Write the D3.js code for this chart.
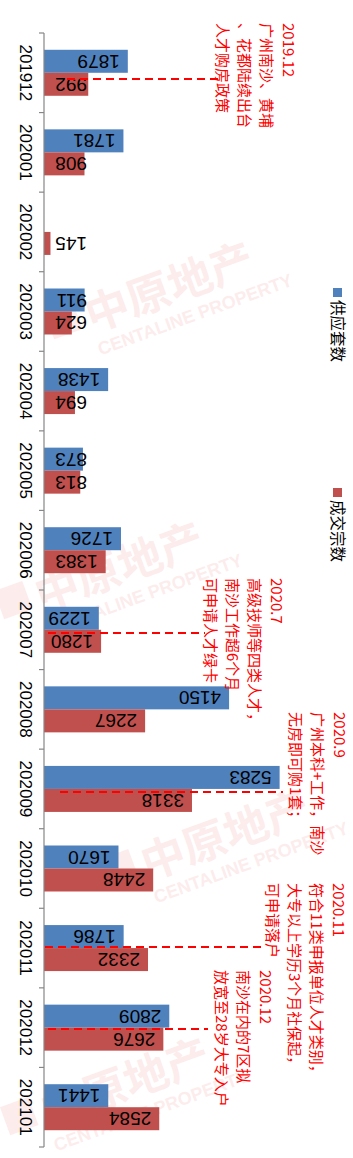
<!DOCTYPE html>
<html><head><meta charset="utf-8">
<script src="https://cdn.jsdelivr.net/npm/d3@7"></script>
<style>html,body{margin:0;padding:0;background:#fff;overflow:hidden}</style>
</head><body>
<svg id="c" width="353" height="1158"></svg>
<script>
// ---- data ----
const categories = ["201912","202001","202002","202003","202004","202005","202006","202007","202008","202009","202010","202011","202012","202101"];
const seriesNames = ["供应套数","成交宗数"];
const supplyValues = [1879,1781,null,911,1438,873,1726,1229,4150,5283,1670,1786,2809,1441];
const dealValues   = [992,908,145,624,694,813,1383,1280,2267,3318,2448,2332,2676,2584];
const annotationCats = ["201912","202007","202009","202011","202012"];
const annotationTexts = [
  ["2019.12","广州南沙、黄埔","、花都陆续出台","人才购房政策"],
  ["2020.7","高级技师等四类人才，","南沙工作超6个月","可申请人才绿卡"],
  ["2020.9","广州本科+工作，南沙","无房即可购1套；"],
  ["2020.11","符合11类申报单位人才类别，","大专以上学历3个月社保起，","可申请落户"],
  ["2020.12","南沙在内的7区拟","放宽至28岁大专入户"]
];

// ---- layout / style ----
const colors = ["#4F81BD","#C0504D"];
const annLayout = [
  {col:289, top:23,  dy:6.2, x1:67, x2:218},
  {col:277, top:578, dy:3.2, x1:48, x2:205},
  {col:340, top:712, dy:3.1, x1:60, x2:283},
  {col:339, top:883, dy:-1,  x1:45, x2:262},
  {col:266, top:970, dy:1.4, x1:48, x2:208}
];
const annLineGap = 21.8;

const svg = d3.select("#c");

// watermarks
const wm = [[92,332],[42,612],[148,880],[48,1128]];
const wmG = svg.append("g");
wm.forEach(([x,y])=>{
  const g = wmG.append("g").attr("transform",`translate(${x},${y}) rotate(-20)`).attr("opacity",0.085);
  g.append("rect").attr("x",-38).attr("y",-36).attr("width",30).attr("height",30).attr("fill","#e03030");
  g.append("text").attr("x",0).attr("y",0).attr("font-family","Noto Sans CJK SC").attr("font-weight","bold")
    .attr("font-size",44).attr("fill","#e03030").text("中原地产");
  g.append("text").attr("x",0).attr("y",25).attr("font-family","Liberation Sans, Arial").attr("font-weight","bold")
    .attr("font-size",18).attr("fill","#e03030").text("CENTALINE PROPERTY");
});

const y = d3.scaleBand().domain(categories).range([33,1147]).padding(0);
const ys = d3.scaleBand().domain(seriesNames).range([0,y.bandwidth()]).paddingInner(0).paddingOuter(0.73);
const x = d3.scaleLinear().domain([0,6000]).range([44,44+6000*0.0446]);

const rows = categories.map((c,i)=>({cat:c, vals:[supplyValues[i], dealValues[i]]}));

// bars
const gRows = svg.append("g").selectAll("g").data(rows).join("g")
  .attr("transform",d=>`translate(0,${y(d.cat)})`);
gRows.selectAll("rect").data(d=>d.vals.map((v,j)=>({v,s:seriesNames[j],j})).filter(e=>e.v!=null))
  .join("rect")
  .attr("x",x(0)).attr("y",e=>ys(e.s)).attr("height",ys.bandwidth())
  .attr("width",e=>x(e.v)-x(0)).attr("fill",e=>colors[e.j]);
// labels (upside down)
gRows.selectAll("text").data(d=>d.vals.map((v,j)=>({v,s:seriesNames[j],j})).filter(e=>e.v!=null))
  .join("text")
  .attr("transform",e=>`translate(${Math.max(x(e.v)-8,87)},${ys(e.s)+ys.bandwidth()/2}) rotate(180)`)
  .attr("text-anchor","start").attr("dominant-baseline","central")
  .attr("font-family","Liberation Sans, Arial").attr("font-size",19).attr("fill","#000")
  .text(e=>e.v);

// axis
const ax = svg.append("g").attr("stroke","#868686").attr("stroke-width",1.2);
ax.append("line").attr("x1",x(0)).attr("x2",x(0)).attr("y1",y.range()[0]).attr("y2",y.range()[1]);
const bounds = categories.map(c=>y(c)).concat([y.range()[1]]);
ax.selectAll("line.t").data(bounds).join("line").attr("class","t")
  .attr("x1",x(0)-5).attr("x2",x(0)).attr("y1",d=>d).attr("y2",d=>d);

// category labels
svg.append("g").selectAll("text").data(categories).join("text")
  .attr("transform",c=>`translate(25.5,${y(c)+y.bandwidth()/2}) rotate(90)`)
  .attr("text-anchor","middle").attr("dominant-baseline","central")
  .attr("font-family","Liberation Sans, Arial").attr("font-size",17).attr("fill","#000")
  .text(c=>c);

// legend
const legY = [288,488];
const lg = svg.append("g").selectAll("g").data(seriesNames).join("g")
  .attr("transform",(s,i)=>`translate(333,${legY[i]})`);
lg.append("rect").attr("width",9).attr("height",9).attr("fill",(s,i)=>colors[i]);
lg.append("text").attr("transform","translate(5.5,12) rotate(90)")
  .attr("dominant-baseline","central").attr("font-family","Noto Sans CJK SC").attr("font-size",15.5)
  .attr("fill","#000").text(s=>s);

// annotations
annotationCats.forEach((c,k)=>{
  const L = annLayout[k];
  const ly = y(c)+y.bandwidth()/2+L.dy;
  svg.append("line").attr("x1",L.x1).attr("x2",L.x2).attr("y1",ly).attr("y2",ly)
    .attr("stroke","#FF0000").attr("stroke-width",2).attr("stroke-dasharray","8,5");
  const g = svg.append("g");
  annotationTexts[k].forEach((t,i)=>{
    g.append("text").attr("transform",`translate(${L.col-i*annLineGap},${L.top}) rotate(90)`)
      .attr("dominant-baseline","central").attr("font-family","Noto Sans CJK SC").attr("font-size",15)
      .attr("fill","#FF0000").text(t);
  });
});
</script>
</body></html>
